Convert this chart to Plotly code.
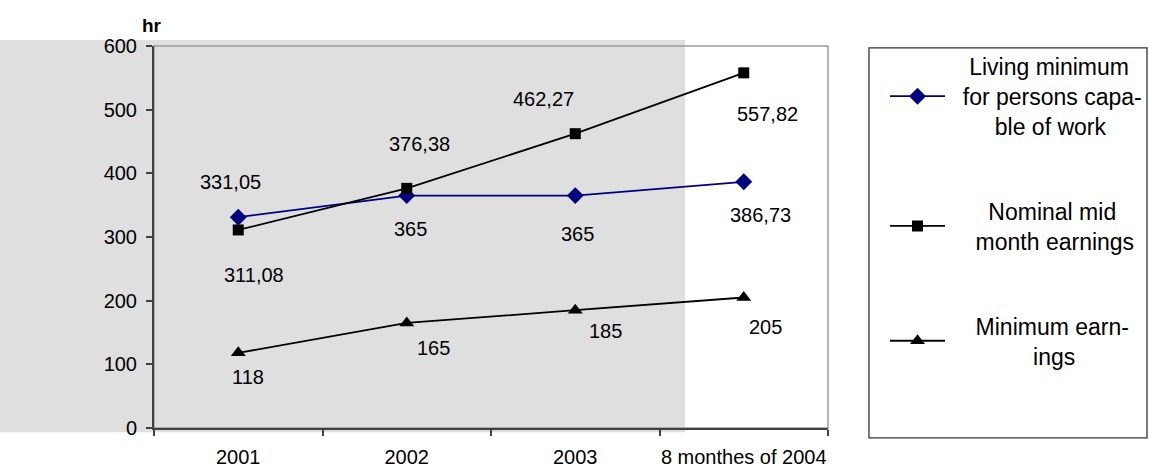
import plotly.graph_objects as go

categories = ["2001", "2002", "2003", "8 monthes of 2004"]
living_min = [331.05, 365, 365, 386.73]
nominal_earn = [311.08, 376.38, 462.27, 557.82]
min_earn = [118, 165, 185, 205]
living_lbl = ["331,05", "365", "365", "386,73"]
nominal_lbl = ["311,08", "376,38", "462,27", "557,82"]
min_lbl = ["118", "165", "185", "205"]
y_ticks = [0, 100, 200, 300, 400, 500, 600]

# label pixel offsets (dx right, dy down)
living_off = [(-8, -35), (4, 33), (2, 38), (17, 33)]
nominal_off = [(16, 45), (13, -44), (-32, -35), (24, 41)]
min_off = [(10, 24), (27, 25), (30, 21), (22, 30)]

NB = "\u00a0"
G = NB * 2
name_living = G + NB + "Living minimum<br>" + G + "for persons capa-<br>" + G + NB * 5 + "ble of work"
name_nominal = G + NB * 4 + "Nominal mid<br>" + G + NB * 2 + "month earnings"
name_min = G + NB * 2 + "Minimum earn-<br>" + G + NB * 11 + "ings"

FONT = "Liberation Sans, Arial, sans-serif"

fig = go.Figure()
fig.add_trace(go.Scatter(x=categories, y=living_min, mode="lines+markers", name=name_living,
                         legendgroup="a",
                         line=dict(color="#000080", width=1.8),
                         marker=dict(symbol="diamond", size=13, color="#000080")))
fig.add_trace(go.Scatter(x=categories, y=nominal_earn, mode="lines+markers", name=name_nominal,
                         legendgroup="b",
                         line=dict(color="black", width=1.8),
                         marker=dict(symbol="square", size=11, color="black")))
fig.add_trace(go.Scatter(x=categories, y=min_earn, mode="lines+markers", name=name_min,
                         legendgroup="c",
                         line=dict(color="black", width=1.8),
                         marker=dict(symbol="triangle-up", size=13, color="black")))

annotations = []
for vals, lbls, offs in [(living_min, living_lbl, living_off),
                         (nominal_earn, nominal_lbl, nominal_off),
                         (min_earn, min_lbl, min_off)]:
    for i, (v, t, (dx, dy)) in enumerate(zip(vals, lbls, offs)):
        annotations.append(dict(x=i, y=v, xref="x", yref="y", text=t, showarrow=False,
                                xshift=dx, yshift=-dy,
                                font=dict(size=20, color="black", family=FONT)))
annotations.append(dict(xref="paper", yref="paper", x=-0.003, y=1.0, yshift=21,
                        xanchor="center", yanchor="middle",
                        text="<b>hr</b>", showarrow=False,
                        font=dict(size=19, color="black", family=FONT)))

shapes = [
    # gray textured backdrop (left part)
    dict(type="rect", xref="paper", yref="paper", x0=-0.2285, x1=0.7878, y0=-0.011, y1=1.016,
         fillcolor="#dfdfdf", line=dict(width=0), layer="below"),
    # plot frame
    dict(type="rect", xref="paper", yref="paper", x0=0, x1=1, y0=0, y1=1,
         line=dict(color="#9a9a9a", width=1.5), layer="below"),
    # legend box
    dict(type="rect", xref="paper", yref="paper", x0=1.0608, x1=1.4733, y0=-0.026, y1=0.995,
         line=dict(color="#333333", width=1.3)),
]

fig.update_layout(
    width=1149, height=467,
    margin=dict(l=154, r=321, t=46, b=39, autoexpand=False),
    paper_bgcolor="white", plot_bgcolor="rgba(0,0,0,0)",
    font=dict(family=FONT, size=20, color="black"),
    showlegend=True,
    legend=dict(x=1.0846, y=1.003, xanchor="left", yanchor="top",
                font=dict(size=23, family=FONT, color="black"),
                bgcolor="rgba(0,0,0,0)", borderwidth=0, maxheight=460,
                tracegroupgap=52, itemwidth=55, valign="middle"),
    annotations=annotations,
    shapes=shapes,
    xaxis=dict(type="category", categoryorder="array", categoryarray=categories,
               range=[-0.5, 3.5], showgrid=False, zeroline=False, automargin=False,
               showline=True, linecolor="#404040", linewidth=2, tickangle=0,
               ticks="outside", tickson="boundaries", ticklen=6, tickcolor="#404040", tickwidth=1.5,
               ticklabelstandoff=10, tickfont=dict(size=20, family=FONT)),
    yaxis=dict(range=[0, 600], tickvals=y_ticks, showgrid=False, zeroline=False, automargin=False,
               showline=True, linecolor="#404040", linewidth=2,
               ticks="outside", ticklen=6, tickcolor="#404040", tickwidth=1.5,
               ticklabelstandoff=5, tickfont=dict(size=20, family=FONT)),
)

fig.write_html("out.html")
